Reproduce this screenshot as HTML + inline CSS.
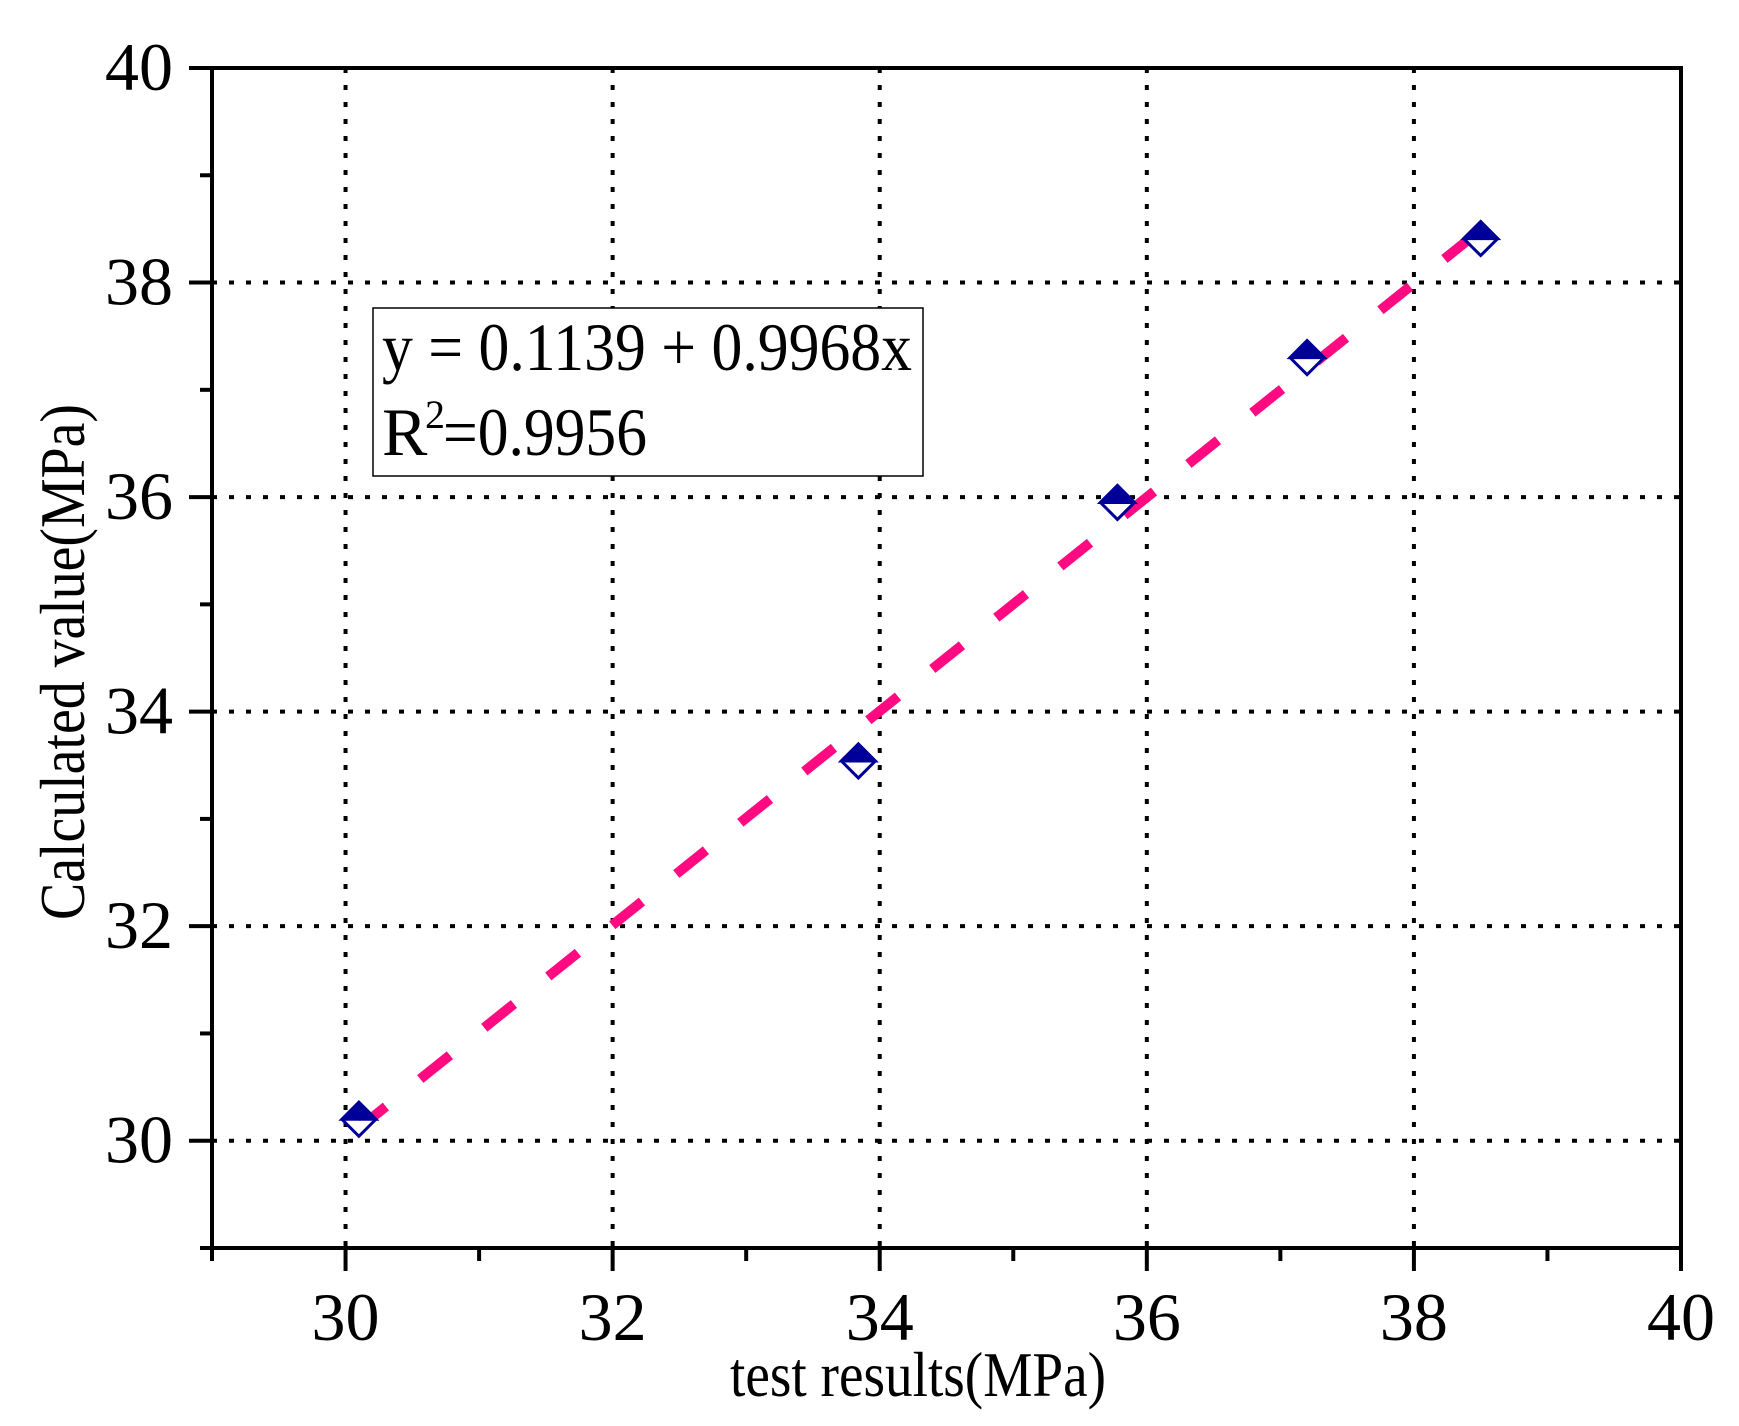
<!DOCTYPE html>
<html><head><meta charset="utf-8"><style>html,body{margin:0;padding:0;background:#fff}svg{display:block}</style></head>
<body>
<svg id="chart" width="1739" height="1426" viewBox="0 0 1739 1426" xmlns="http://www.w3.org/2000/svg" font-family="'Liberation Serif', serif">
<g id="grid"></g>
<g id="fit"></g>
<g id="pts"></g>
<g id="axes"></g>
<g>
<rect x="373" y="308" width="550" height="168" fill="#fff" stroke="#000" stroke-width="1.5"/>
<text x="382" y="370" font-size="68" textLength="530" lengthAdjust="spacingAndGlyphs">y = 0.1139 + 0.9968x</text>
<text x="382" y="455" font-size="68">R</text>
<text x="425" y="428" font-size="40">2</text>
<text x="443" y="455" font-size="68" textLength="204" lengthAdjust="spacingAndGlyphs">=0.9956</text>
</g>
<text x="730" y="1396" font-size="64" textLength="376" lengthAdjust="spacingAndGlyphs">test results(MPa)</text>
<text transform="translate(84,662) rotate(-90)" font-size="64" text-anchor="middle" textLength="516" lengthAdjust="spacingAndGlyphs">Calculated value(MPa)</text>
</svg>
<script>
const xTicks = [30, 32, 34, 36, 38, 40];
const yTicks = [30, 32, 34, 36, 38, 40];
const xMinor = [29, 31, 33, 35, 37, 39];
const yMinor = [29, 31, 33, 35, 37, 39];
const testResults = [30.1, 33.84, 35.78, 37.2, 38.5];
const calcValues = [30.2, 33.54, 35.95, 37.3, 38.41];
const fitIntercept = 0.1139;
const fitSlope = 0.9968;
const fitRange = [30.08, 38.5];

const L = 212, R = 1681, T = 68, B = 1248;
const xMin = 29, xMax = 40, yMin = 29, yMax = 40;
const sx = v => L + (v - xMin) / (xMax - xMin) * (R - L);
const sy = v => B - (v - yMin) / (yMax - yMin) * (B - T);
const NS = 'http://www.w3.org/2000/svg';
function mk(tag, attrs, parent) {
  const e = document.createElementNS(NS, tag);
  for (const k in attrs) e.setAttribute(k, attrs[k]);
  parent.appendChild(e);
  return e;
}
const grid = document.getElementById('grid');
xTicks.forEach(v => {
  if (v === xMax) return;
  const l = mk('line', {x1: sx(v), x2: sx(v), y1: T, y2: B, stroke: '#000', 'stroke-width': 4, 'stroke-dasharray': '5 12'}, grid);
  
  
});
yTicks.forEach(v => {
  if (v === yMax) return;
  const l = mk('line', {x1: L, x2: R, y1: sy(v), y2: sy(v), stroke: '#000', 'stroke-width': 4, 'stroke-dasharray': '5 12'}, grid);
  
  
});
const fit = document.getElementById('fit');
const fl = mk('line', {x1: sx(fitRange[0]), y1: sy(fitIntercept + fitSlope * fitRange[0]), x2: sx(fitRange[1]), y2: sy(fitIntercept + fitSlope * fitRange[1]), stroke: '#ff0a80', 'stroke-width': 10, 'stroke-dasharray': '38 44'}, fit);


const pts = document.getElementById('pts');
testResults.forEach((xv, i) => {
  const cx = sx(xv), cy = sy(calcValues[i]), h = 17;
  const g = mk('g', {}, pts);
  
  
  mk('polygon', {points: `${cx-h},${cy} ${cx},${cy-h} ${cx+h},${cy} ${cx},${cy+h}`, fill: '#fff', stroke: '#000099', 'stroke-width': 3}, g);
  mk('polygon', {points: `${cx-h},${cy} ${cx},${cy-h} ${cx+h},${cy}`, fill: '#000099', stroke: '#000099', 'stroke-width': 3}, g);
});
const axes = document.getElementById('axes');
mk('rect', {x: L, y: T, width: R - L, height: B - T, fill: 'none', stroke: '#000', 'stroke-width': 4}, axes);
xTicks.forEach(v => {
  mk('line', {x1: sx(v), x2: sx(v), y1: B, y2: B + 23, stroke: '#000', 'stroke-width': 4}, axes);
  const t = mk('text', {x: sx(v), y: 1340, 'font-size': 68, 'text-anchor': 'middle'}, axes);
  t.textContent = v;
  
  
});
xMinor.forEach(v => mk('line', {x1: sx(v), x2: sx(v), y1: B, y2: B + 13, stroke: '#000', 'stroke-width': 4}, axes));
yTicks.forEach(v => {
  mk('line', {x1: L - 23, x2: L, y1: sy(v), y2: sy(v), stroke: '#000', 'stroke-width': 4}, axes);
  const t = mk('text', {x: 173, y: sy(v) + 22, 'font-size': 68, 'text-anchor': 'end'}, axes);
  t.textContent = v;
  
  
});
yMinor.forEach(v => mk('line', {x1: L - 12, x2: L, y1: sy(v), y2: sy(v), stroke: '#000', 'stroke-width': 4}, axes));
</script>
</body></html>
